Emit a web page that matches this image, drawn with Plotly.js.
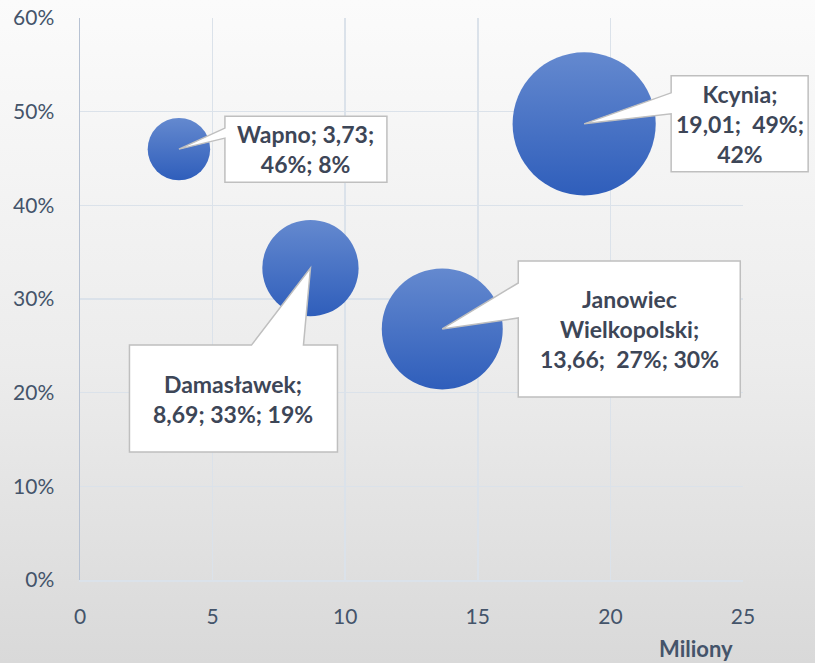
<!DOCTYPE html>
<html>
<head>
<meta charset="utf-8">
<script src="https://cdn.plot.ly/plotly-3.0.1.min.js"></script>
<style>
  html, body { margin: 0; padding: 0; }
  #chart { width: 815px; height: 663px; background: linear-gradient(to bottom, #fbfbfb 0%, #ececec 55%, #d9d9d9 100%); }
</style>
</head>
<body>
<div id="chart"></div>
<script>
// ---- data ----
const names = ["Wapno", "Damasławek", "Janowiec Wielkopolski", "Kcynia"];
const xValues = [3.73, 8.69, 13.66, 19.01];          // Miliony
const yValues = [0.46, 0.333, 0.268, 0.487];         // share
const sizeValues = [8, 19, 30, 42];                  // bubble size, %
const labelLines = [
  ["Wapno; 3,73;", "46%; 8%"],
  ["Damasławek;", "8,69; 33%; 19%"],
  ["Janowiec", "Wielkopolski;", "13,66;  27%; 30%"],
  ["Kcynia;", "19,01;  49%;", "42%"]
];
const xTickVals = [0, 5, 10, 15, 20, 25];
const yTickVals = [0, 0.1, 0.2, 0.3, 0.4, 0.5, 0.6];

const xRange = [0, 25];
const yRange = [0, 0.6];

// ---- callout geometry (pixel offsets from bubble centre, screen y down) ----
const callouts = [
  {L: 46,   R: 208, T: -33, B: 33,  side: "left", w1: -21, w2: -11},
  {L: -181, R: 27,  T: 77,  B: 184, side: "top",  w1: -59, w2: -7},
  {L: 76,   R: 298, T: -68, B: 68,  side: "left", w1: -46, w2: -11},
  {L: 87,   R: 224, T: -48, B: 48,  side: "left", w1: -31, w2: -10}
];

function pt(x, y) { return x + "," + (-y); }
function calloutPath(c) {
  if (c.side === "left") {
    return "M" + pt(c.L, c.T) + " L" + pt(c.R, c.T) + " L" + pt(c.R, c.B) + " L" + pt(c.L, c.B) +
           " L" + pt(c.L, c.w2) + " L" + pt(0, 0) + " L" + pt(c.L, c.w1) + " Z";
  }
  return "M" + pt(c.L, c.T) + " L" + pt(c.w1, c.T) + " L" + pt(0, 0) + " L" + pt(c.w2, c.T) +
         " L" + pt(c.R, c.T) + " L" + pt(c.R, c.B) + " L" + pt(c.L, c.B) + " Z";
}
// anchor in paper fraction so callouts are not clipped by the plot area
const toPaperX = v => (v - xRange[0]) / (xRange[1] - xRange[0]);
const toPaperY = v => (v - yRange[0]) / (yRange[1] - yRange[0]);

const shapes = callouts.map((c, i) => ({
  type: "path", xref: "paper", yref: "paper",
  xsizemode: "pixel", ysizemode: "pixel",
  xanchor: toPaperX(xValues[i]), yanchor: toPaperY(yValues[i]),
  path: calloutPath(c),
  fillcolor: "#ffffff",
  line: {color: "#bfbfbf", width: 1.5},
  layer: "above"
}));

const annotations = callouts.map((c, i) => ({
  xref: "x", yref: "y", x: xValues[i], y: yValues[i],
  xshift: (c.L + c.R) / 2, yshift: -(c.T + c.B) / 2,
  text: labelLines[i].join("<br>"),
  showarrow: false, align: "center",
  font: {family: "Lato, 'Open Sans', sans-serif", size: 23, weight: 700, color: "#3d4657"}
}));

annotations.push({
  xref: "paper", yref: "paper", x: 0.929, y: 0, yshift: -68,
  xanchor: "center", yanchor: "middle", showarrow: false,
  text: "Miliony",
  font: {family: "Lato, sans-serif", size: 22, weight: 700, color: "#44546a"}
});

const trace = {
  type: "scatter", mode: "markers",
  x: xValues, y: yValues, text: names,
  marker: {
    size: sizeValues, sizemode: "area", sizeref: 0.0041,
    color: "#6489cf",
    gradient: {type: "vertical", color: "#2f5ebb"},
    line: {width: 0},
    opacity: 1
  },
  hoverinfo: "text"
};

const layout = {
  width: 815, height: 663,
  margin: {l: 80, r: 72, t: 18, b: 83},
  paper_bgcolor: "rgba(0,0,0,0)", plot_bgcolor: "rgba(0,0,0,0)",
  showlegend: false,
  xaxis: {
    range: xRange, tickvals: xTickVals, ticks: "",
    showgrid: true, gridcolor: "#dbe2ea", gridwidth: 1.5,
    zeroline: false, showline: true, linecolor: "#dbe2ea", linewidth: 1.5, mirror: false,
    tickfont: {family: "Lato, sans-serif", size: 21, color: "#44546a"},
    ticklabelstandoff: 17
  },
  yaxis: {
    range: yRange, tickvals: yTickVals, tickformat: ".0%", ticks: "",
    showgrid: true, gridcolor: "#dbe2ea", gridwidth: 1.5,
    zeroline: false, showline: true, linecolor: "#b7c2d3", linewidth: 1.5,
    tickfont: {family: "Lato, sans-serif", size: 21, color: "#44546a"},
    ticklabelstandoff: 20
  },
  shapes: shapes,
  annotations: annotations
};

Plotly.newPlot("chart", [trace], layout, {displayModeBar: false, staticPlot: true});
</script>
</body>
</html>
